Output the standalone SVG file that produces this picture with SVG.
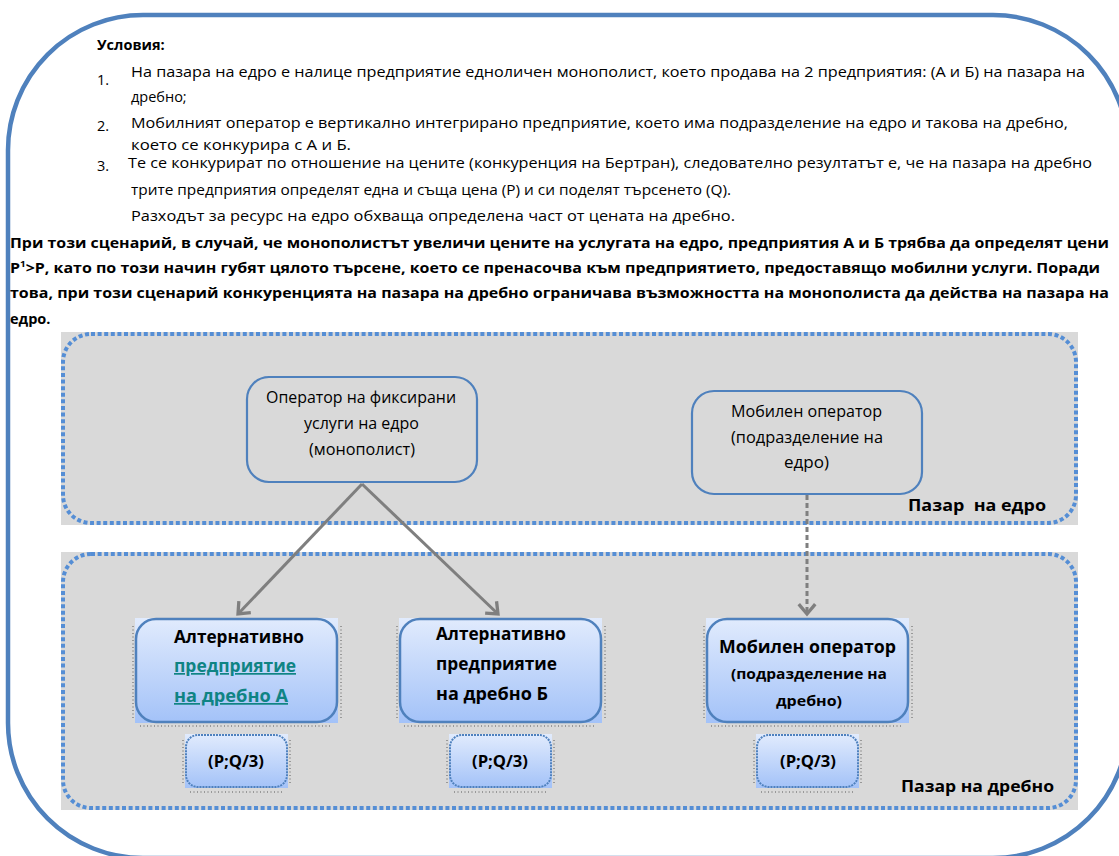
<svg xmlns="http://www.w3.org/2000/svg" width="1119" height="856" viewBox="0 0 1119 856">
<defs>
<linearGradient id="gb" x1="0" y1="0" x2="0" y2="1">
<stop offset="0" stop-color="#e1ebfd"/>
<stop offset="1" stop-color="#a3c2f8"/>
</linearGradient>
<marker id="chev" markerUnits="userSpaceOnUse" markerWidth="22" markerHeight="22" viewBox="-12 -10 14 20" refX="0" refY="0" orient="auto">
<path d="M-9,-7.5 L0,0 L-9,7.5" fill="none" stroke="#7f7f7f" stroke-width="3" stroke-linejoin="miter"/>
</marker>
<style>
text{font-family:"Open Sans","Noto Sans","Liberation Sans",sans-serif;fill:#000;}
.t{font-size:14.5px;}
.n{font-size:15.5px;}
.b{font-weight:bold;}
.region{fill:none;stroke:#558ed5;stroke-width:4;stroke-dasharray:4 2.6;}
.gray{fill:#d9d9d9;}
.up{fill:none;stroke:#4f81bd;stroke-width:2.2;}
.nd{fill:none;stroke:#4f81bd;stroke-width:2.5;}
.pq{fill:none;stroke:#4f81bd;stroke-width:2;stroke-dasharray:2 1;}
.art{fill:none;stroke:#222;stroke-width:1;stroke-dasharray:1 2.5;opacity:0.7;}
.conn{fill:none;stroke:#7f7f7f;stroke-width:3;}
.teal{fill:#0f8484;text-decoration:underline;}
.lbl{font-size:16.5px;font-weight:bold;white-space:pre;}
</style>
</defs>

<rect x="8" y="15" width="1120" height="843" rx="135" ry="135" fill="none" stroke="#4f81bd" stroke-width="4.5"/>

<g id="conditions">
<text class="t b" x="97" y="50">Условия:</text>
<text class="t" x="97" y="85">1.</text>
<text class="t" x="131" y="77" textLength="954" lengthAdjust="spacingAndGlyphs">На пазара на едро е налице предприятие едноличен монополист, което продава на 2 предприятия: (А и Б) на пазара на</text>
<text class="t" x="131" y="102">дребно;</text>
<text class="t" x="97" y="131">2.</text>
<text class="t" x="131" y="128" textLength="937" lengthAdjust="spacingAndGlyphs">Мобилният оператор е вертикално интегрирано предприятие, което има подразделение на едро и такова на дребно,</text>
<text class="t" x="131" y="150" textLength="220" lengthAdjust="spacingAndGlyphs">което се конкурира с А и Б.</text>
<text class="t" x="97" y="171">3.</text>
<text class="t" x="128" y="168" textLength="964" lengthAdjust="spacingAndGlyphs">Те се конкурират по отношение на цените (конкуренция на Бертран), следователно резултатът е, че на пазара на дребно</text>
<text class="t" x="131" y="195" textLength="600" lengthAdjust="spacingAndGlyphs">трите предприятия определят една и съща цена (Р) и си поделят търсенето (Q).</text>
<text class="t" x="131" y="221" textLength="604" lengthAdjust="spacingAndGlyphs">Разходът за ресурс на едро обхваща определена част от цената на дребно.</text>
</g>

<g id="scenario">
<text class="t b" x="10" y="248" textLength="1099" lengthAdjust="spacingAndGlyphs">При този сценарий, в случай, че монополистът увеличи цените на услугата на едро, предприятия А и Б трябва да определят цени</text>
<text class="t b" x="10" y="273" textLength="1090" lengthAdjust="spacingAndGlyphs">P<tspan font-size="9" dy="-6">1</tspan><tspan dy="6">&gt;P, като по този начин губят цялото търсене, което се пренасочва към предприятието, предоставящо мобилни услуги. Поради</tspan></text>
<text class="t b" x="10" y="298" textLength="1099" lengthAdjust="spacingAndGlyphs">това, при този сценарий конкуренцията на пазара на дребно ограничава възможността на монополиста да действа на пазара на</text>
<text class="t b" x="10" y="324">едро.</text>
</g>

<g id="wholesale-market">
<rect class="gray" x="61" y="332" width="1017" height="193"/>
<rect class="region" x="63" y="334" width="1013" height="189" rx="28" ry="28"/>
<text class="lbl" x="908" y="511" textLength="138" lengthAdjust="spacingAndGlyphs">Пазар  на едро</text>
</g>

<g id="retail-market">
<rect class="gray" x="61" y="552" width="1017" height="258"/>
<rect class="region" x="63" y="554" width="1013" height="254" rx="28" ry="28"/>
<text class="lbl" x="901" y="792" textLength="153" lengthAdjust="spacingAndGlyphs">Пазар на дребно</text>
</g>

<g id="connectors">
<path class="conn" d="M362,484 L238,614" marker-end="url(#chev)"/>
<path class="conn" d="M362,484 L498,614" marker-end="url(#chev)"/>
<path class="conn" d="M807,495 L807,614" stroke-dasharray="5 3" marker-end="url(#chev)"/>
</g>

<g id="node-fixed-operator">
<rect class="up" x="247" y="377" width="230" height="105" rx="22" ry="22"/>
<text class="n" x="266" y="403" textLength="190" lengthAdjust="spacingAndGlyphs">Оператор на фиксирани</text>
<text class="n" x="304" y="429" textLength="115" lengthAdjust="spacingAndGlyphs">услуги на едро</text>
<text class="n" x="309" y="455" textLength="106" lengthAdjust="spacingAndGlyphs">(монополист)</text>
</g>

<g id="node-mobile-wholesale">
<rect class="up" x="692" y="391" width="230" height="103" rx="22" ry="22"/>
<text class="n" x="731" y="417" textLength="151" lengthAdjust="spacingAndGlyphs">Мобилен оператор</text>
<text class="n" x="731" y="443" textLength="152" lengthAdjust="spacingAndGlyphs">(подразделение на</text>
<text class="n" x="784" y="468" textLength="45" lengthAdjust="spacingAndGlyphs">едро)</text>
</g>

<g id="node-alt-a">
<rect x="135" y="618" width="203" height="105" fill="url(#gb)"/>
<rect class="nd" x="136" y="619" width="201" height="103" rx="20" ry="20"/>
<path class="art" d="M133,626 V720 M341,626 V720 M140,726 H330"/>
<text class="b" font-size="17" x="174" y="643" textLength="130" lengthAdjust="spacingAndGlyphs">Алтернативно</text>
<text class="b teal" font-size="17" x="174" y="672" textLength="122" lengthAdjust="spacingAndGlyphs">предприятие</text>
<text class="b teal" font-size="17" x="174" y="702" textLength="114" lengthAdjust="spacingAndGlyphs">на дребно А</text>
</g>

<g id="node-alt-b">
<rect x="399" y="618" width="203" height="105" fill="url(#gb)"/>
<rect class="nd" x="400" y="619" width="201" height="103" rx="20" ry="20"/>
<path class="art" d="M397,626 V720 M605,626 V720 M404,726 H594"/>
<text class="b" font-size="17" x="436" y="640" textLength="130" lengthAdjust="spacingAndGlyphs">Алтернативно</text>
<text class="b" font-size="17" x="436" y="670" textLength="121" lengthAdjust="spacingAndGlyphs">предприятие</text>
<text class="b" font-size="17" x="436" y="700" textLength="112" lengthAdjust="spacingAndGlyphs">на дребно Б</text>
</g>

<g id="node-mobile-retail">
<rect x="706" y="618" width="203" height="105" fill="url(#gb)"/>
<rect class="nd" x="707" y="619" width="201" height="103" rx="20" ry="20"/>
<path class="art" d="M704,626 V720 M912,626 V720 M711,726 H901"/>
<text class="b" font-size="18" x="719" y="653" textLength="177" lengthAdjust="spacingAndGlyphs">Мобилен оператор</text>
<text class="b" font-size="15" x="731" y="679" textLength="156" lengthAdjust="spacingAndGlyphs">(подразделение на</text>
<text class="b" font-size="15" x="776" y="706" textLength="66" lengthAdjust="spacingAndGlyphs">дребно)</text>
</g>

<g id="pq-a">
<rect x="185" y="734" width="103" height="54" fill="url(#gb)"/>
<rect class="pq" x="186" y="735" width="101" height="52" rx="12" ry="12"/>
<path class="art" d="M183,740 V784 M290,740 V784 M190,792 H282"/>
<text class="b" font-size="16" x="208" y="767" textLength="56" lengthAdjust="spacingAndGlyphs">(P;Q/3)</text>
</g>

<g id="pq-b">
<rect x="449" y="734" width="103" height="54" fill="url(#gb)"/>
<rect class="pq" x="450" y="735" width="101" height="52" rx="12" ry="12"/>
<path class="art" d="M447,740 V784 M554,740 V784 M454,792 H546"/>
<text class="b" font-size="16" x="472" y="767" textLength="56" lengthAdjust="spacingAndGlyphs">(P;Q/3)</text>
</g>

<g id="pq-mobile">
<rect x="756" y="734" width="103" height="54" fill="url(#gb)"/>
<rect class="pq" x="757" y="735" width="101" height="52" rx="12" ry="12"/>
<path class="art" d="M754,740 V784 M861,740 V784 M761,792 H853"/>
<text class="b" font-size="16" x="780" y="767" textLength="56" lengthAdjust="spacingAndGlyphs">(P;Q/3)</text>
</g>
</svg>
